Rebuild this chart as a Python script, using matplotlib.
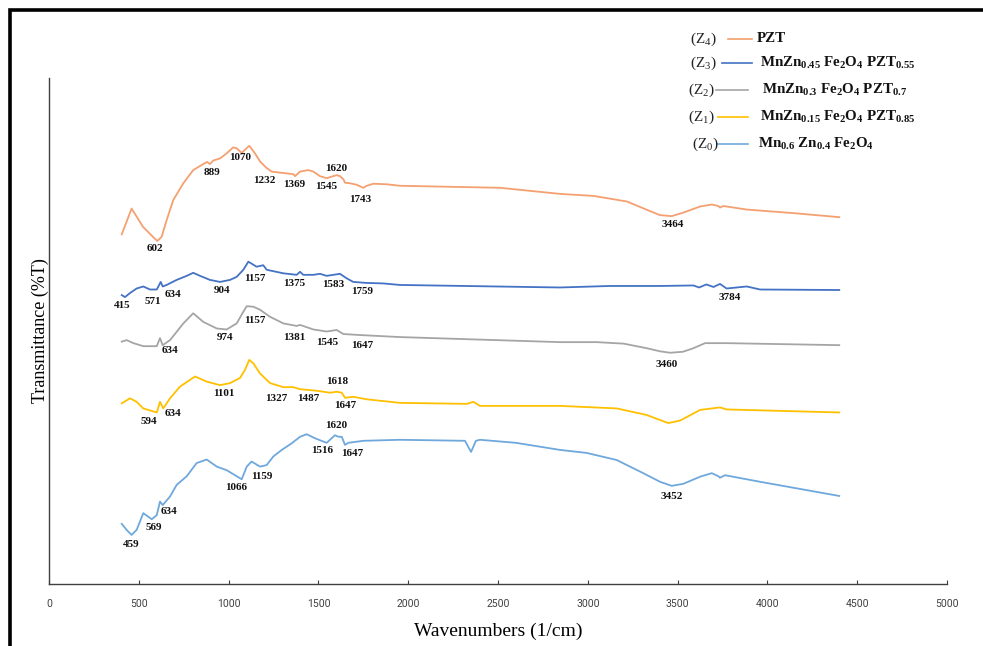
import matplotlib
matplotlib.use("Agg")
import matplotlib.pyplot as plt
from matplotlib.patches import Rectangle

# ---------------- data (wavenumber, transmittance a.u.) ----------------
z4_wn = [405, 460, 523, 579, 603, 627, 655, 692, 748, 803, 859, 880, 896, 915, 952, 989, 1026, 1045,
         1073, 1115, 1147, 1175, 1212, 1240, 1286, 1360, 1370, 1398, 1444, 1472, 1509, 1546, 1583,
         1602, 1620, 1639, 1648, 1676, 1713, 1750, 1769, 1806, 1880, 1954, 2233, 2511, 2845, 3031,
         3217, 3346, 3402, 3467, 3532, 3625, 3690, 3727, 3736, 3755, 3885, 4144, 4400]
z4_t = [69.1, 74.2, 70.6, 68.6, 67.8, 68.6, 71.9, 75.9, 79.2, 81.8, 83.0, 83.4, 83.0, 83.7, 84.1, 85.1,
        86.3, 86.1, 85.2, 86.6, 85.1, 83.5, 82.2, 81.5, 81.3, 81.0, 80.6, 81.5, 81.8, 81.5, 80.6, 80.2,
        80.6, 80.8, 80.6, 80.0, 79.3, 79.2, 78.9, 78.3, 78.7, 79.1, 79.0, 78.7, 78.5, 78.3, 77.1, 76.7,
        75.6, 73.7, 72.9, 72.7, 73.4, 74.6, 75.0, 74.7, 74.4, 74.7, 74.0, 73.3, 72.5]

z3_wn = [405, 423, 451, 488, 525, 562, 600, 609, 622, 633, 655, 711, 767, 803, 841, 896, 952, 1008,
         1045, 1082, 1110, 1156, 1193, 1212, 1305, 1379, 1398, 1416, 1472, 1509, 1546, 1583, 1620,
         1658, 1694, 1769, 1861, 1954, 2845, 3124, 3402, 3588, 3620, 3660, 3700, 3736, 3773, 3885,
         3959, 4400]
z3_t = [57.1, 56.7, 57.5, 58.4, 58.8, 58.2, 58.2, 58.8, 59.7, 58.8, 59.1, 60.1, 60.9, 61.5, 60.9, 60.1,
        59.7, 60.1, 60.7, 62.1, 63.7, 62.7, 63.0, 62.1, 61.4, 61.1, 61.7, 61.1, 61.1, 61.3, 60.9, 61.1,
        61.3, 60.4, 59.7, 59.5, 59.4, 59.1, 58.6, 58.9, 58.9, 59.0, 58.6, 59.2, 58.7, 59.3, 58.4, 58.8,
        58.2, 58.1]

z2_wn = [405, 432, 470, 525, 600, 618, 633, 674, 748, 803, 859, 934, 989, 1045, 1082, 1101, 1138,
         1175, 1231, 1305, 1379, 1398, 1472, 1546, 1602, 1639, 1732, 1954, 2845, 3050, 3200, 3328,
         3400, 3458, 3530, 3588, 3653, 3773, 4400]
z2_t = [47.9, 48.2, 47.6, 47.0, 47.0, 48.6, 47.2, 48.2, 51.5, 53.5, 51.8, 50.5, 50.3, 51.5, 53.8, 54.9,
        54.8, 54.2, 52.8, 51.5, 51.0, 51.2, 50.3, 49.9, 50.2, 49.4, 49.2, 48.8, 47.8, 47.8, 47.5, 46.6,
        46.0, 45.7, 45.9, 46.6, 47.6, 47.6, 47.2]

z1_wn = [405, 451, 488, 525, 600, 618, 636, 674, 729, 813, 878, 952, 1008, 1063, 1091, 1115, 1138,
         1175, 1231, 1305, 1360, 1398, 1490, 1565, 1602, 1630, 1648, 1694, 1769, 1954, 2326, 2363,
         2400, 2845, 3161, 3328, 3448, 3514, 3625, 3736, 3773, 4400]
z1_t = [35.7, 36.7, 36.0, 34.7, 33.9, 36.0, 34.7, 36.7, 39.0, 41.0, 40.0, 39.3, 39.7, 40.7, 42.3, 44.3,
        43.6, 41.6, 39.7, 38.9, 38.9, 38.5, 38.2, 37.8, 38.0, 37.8, 36.8, 37.0, 36.5, 35.8, 35.6, 36.0,
        35.2, 35.2, 34.7, 33.4, 31.8, 32.3, 34.4, 34.9, 34.5, 33.9]

z0_wn = [405, 432, 460, 488, 525, 572, 600, 618, 633, 674, 711, 767, 822, 878, 934, 989, 1073, 1101,
         1128, 1175, 1212, 1249, 1296, 1351, 1398, 1435, 1481, 1546, 1592, 1611, 1630, 1648, 1666,
         1750, 1954, 2316, 2350, 2377, 2400, 2600, 2845, 2994, 3161, 3309, 3402, 3467, 3532, 3625,
         3690, 3727, 3736, 3764, 3959, 4400]
z0_t = [11.9, 10.7, 9.7, 10.7, 14.0, 12.8, 13.6, 16.3, 15.6, 17.3, 19.6, 21.3, 23.9, 24.6, 23.2, 22.5,
        20.7, 23.2, 24.2, 23.2, 23.5, 25.2, 26.5, 27.8, 29.1, 29.6, 28.8, 27.9, 29.4, 29.1, 29.1, 27.5,
        27.9, 28.3, 28.5, 28.3, 26.1, 28.3, 28.5, 27.9, 26.5, 25.9, 24.5, 21.9, 20.2, 19.4, 19.8, 21.2,
        21.9, 21.3, 21.0, 21.5, 20.2, 17.4]

# peak labels: (text, x, y) in data units
z4_labels = [("602", 590, 66.4), ("889", 908, 81.4), ("1070", 1063, 84.2), ("1232", 1197, 79.8),
             ("1369", 1364, 79.0), ("1545", 1542, 78.5), ("1620", 1598, 82.2), ("1743", 1732, 76.0),
             ("3464", 3474, 71.1)]
z3_labels = [("415", 406, 55.1), ("571", 579, 55.9), ("634", 690, 57.3), ("904", 963, 58.1),
             ("1157", 1147, 60.3), ("1375", 1364, 59.3), ("1583", 1581, 59.1), ("1759", 1743, 57.9),
             ("3784", 3792, 56.7)]
z2_labels = [("634", 674, 46.2), ("974", 980, 48.8), ("1157", 1147, 52.0), ("1381", 1364, 48.8),
             ("1545", 1548, 47.8), ("1647", 1743, 47.2), ("3460", 3441, 43.3)]
z1_labels = [("594", 557, 32.2), ("634", 690, 33.6), ("1101", 974, 37.7), ("1327", 1264, 36.6),
             ("1487", 1442, 36.6), ("1618", 1604, 40.1), ("1647", 1648, 35.2)]
z0_labels = [("459", 457, 7.9), ("569", 585, 11.1), ("634", 668, 14.4), ("1066", 1041, 19.0),
             ("1159", 1186, 21.3), ("1516", 1520, 26.3), ("1620", 1598, 31.4), ("1647", 1687, 25.7),
             ("3452", 3469, 17.2)]

prefixes = ["(Z$_{\\mathrm{4}}$)", "(Z$_{\\mathrm{3}}$)", "(Z$_{\\mathrm{2}}$)",
            "(Z$_{\\mathrm{1}}$)", "(Z$_{\\mathrm{0}}$)"]
names = ["PZT", "MnZn$_{0.45}$ Fe$_2$O$_4$ PZT$_{0.55}$", "MnZn$_{0.3}$ Fe$_2$O$_4$ PZT$_{0.7}$",
         "MnZn$_{0.15}$ Fe$_2$O$_4$ PZT$_{0.85}$", "Mn$_{0.6}$ Zn$_{0.4}$ Fe$_2$O$_4$"]
colors = ["#F4A070", "#4472C4", "#A5A5A5", "#FFC000", "#6FA8DC"]

xticks = [0, 500, 1000, 1500, 2000, 2500, 3000, 3500, 4000, 4500, 5000]

# ---------------- plotting ----------------
plt.rcParams['mathtext.fontset'] = 'custom'
plt.rcParams['mathtext.rm'] = 'Liberation Serif'
plt.rcParams['mathtext.bf'] = 'Liberation Serif:bold'
plt.rcParams['mathtext.default'] = 'bf'

fig = plt.figure(figsize=(9.83, 6.46), dpi=100)
ax = fig.add_axes([49/983, 62/646, 898/983, 506/646])

series = [(z4_wn, z4_t, z4_labels), (z3_wn, z3_t, z3_labels), (z2_wn, z2_t, z2_labels),
          (z1_wn, z1_t, z1_labels), (z0_wn, z0_t, z0_labels)]
for (wn, t, labs), c in zip(series, colors):
    ax.plot(wn, t, color=c, lw=1.3, solid_joinstyle='round')
    for txt, x, y in labs:
        ax.text(x, y, txt, ha='center', va='center', fontsize=8, fontweight='bold',
                family='Liberation Serif', color='#111111')

ax.set_xlim(0, 5000)
ax.set_ylim(0, 100)
ax.set_xticks(xticks)
ax.set_xticklabels([str(v) for v in xticks], family='Roboto', fontsize=7.5, color='#404040')
ax.set_yticks([])
ax.tick_params(axis='x', direction='in', length=3, width=0.8, color='#404040', pad=11)
for s in ['top', 'right']:
    ax.spines[s].set_visible(False)
for s in ['left', 'bottom']:
    ax.spines[s].set_color('#404040')
    ax.spines[s].set_linewidth(1.0)

ax.set_xlabel("Wavenumbers (1/cm)", family='Liberation Serif', fontsize=14, labelpad=10)
ax.set_ylabel("Transmittance (%T)", family='Liberation Serif', fontsize=13, labelpad=0)

# legend (drawn manually to match the reference layout)
leg_y = [39, 63, 90, 117, 144]
leg_px0 = [690, 690, 688, 688, 692]
line_x = [(728, 752), (722, 752), (716, 748), (718, 748), (718, 748)]
text_x = [757, 760, 762, 760, 758]
for i in range(5):
    yf = 1 - leg_y[i] / 646
    fig.text(leg_px0[i] / 983, yf, prefixes[i], family='Liberation Serif', fontsize=11,
             va='center', ha='left', color='#222222')
    fig.add_artist(plt.Line2D([line_x[i][0] / 983, line_x[i][1] / 983], [yf, yf],
                              color=colors[i], lw=1.2, transform=fig.transFigure))
    fig.text(text_x[i] / 983, yf, names[i], family='Liberation Serif', fontsize=10.8,
             fontweight='bold', va='center', ha='left', color='#111111')

# outer frame
fig.add_artist(Rectangle((9.5/983, -0.2), 1.2, 1.2 - 9.5/646, fill=False, lw=2.6,
                         edgecolor='black', transform=fig.transFigure))

fig.savefig("out.png", dpi=100)
